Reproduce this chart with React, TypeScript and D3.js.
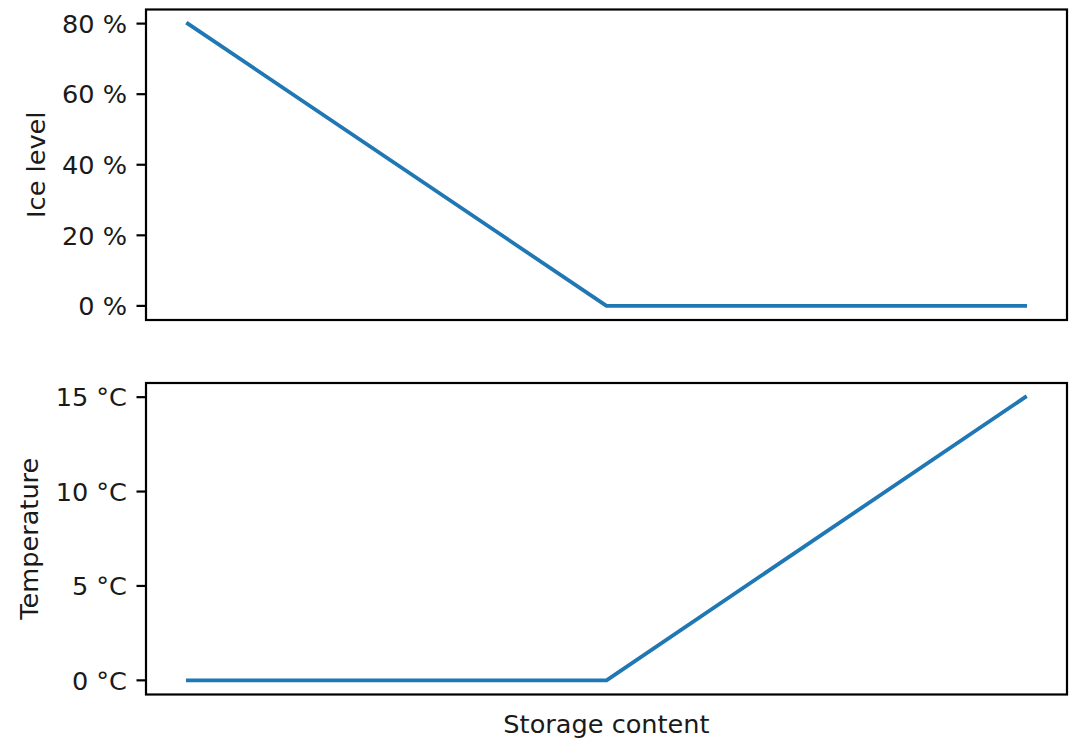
import React from "react";
import * as d3 from "d3";

// Storage states along the x axis (unlabelled positions)
const storagePoints = [0, 1, 2];
// Ice fraction in percent for each storage state
const iceLevel = [80, 0, 0];
// Water temperature in °C for each storage state
const temperature = [0, 0, 15];

const iceTicks = [0, 20, 40, 60, 80];
const tempTicks = [0, 5, 10, 15];

const xLabel = "Storage content";
const iceLabel = "Ice level";
const tempLabel = "Temperature";

const W = 1077;
const H = 739;
const FONT = "'DejaVu Sans', sans-serif";
const FS = 25.6;
const LINE = "#1f77b4";
const INK = "#1a1a1a";

const left = 146;
const right = 1067;
const panels = [
  { top: 9.5, bottom: 320, values: iceLevel, ticks: iceTicks, fmt: (v: number) => `${v} %`, label: iceLabel, labelX: 45 },
  { top: 383, bottom: 694.5, values: temperature, ticks: tempTicks, fmt: (v: number) => `${v} °C`, label: tempLabel, labelX: 38 },
];

function padded(lo: number, hi: number): [number, number] {
  const m = (hi - lo) * 0.05;
  return [lo - m, hi + m];
}

export default function App() {
  const xExt = d3.extent(storagePoints) as [number, number];
  const x = d3.scaleLinear().domain(padded(xExt[0], xExt[1])).range([left, right]);

  return (
    <div style={{ position: "absolute", left: 0, top: 0 }}>
      <svg width={W} height={H} style={{ display: "block", background: "#fff" }} fontFamily={FONT}>
        {panels.map((p, i) => {
          const ext = d3.extent(p.values) as [number, number];
          const y = d3.scaleLinear().domain(padded(ext[0], ext[1])).range([p.bottom, p.top]);
          const line = d3
            .line<number>()
            .x((_, j) => x(storagePoints[j]))
            .y((v) => y(v));
          const cy = (p.top + p.bottom) / 2;
          return (
            <g key={i}>
              <path d={line(p.values) ?? ""} fill="none" stroke={LINE} strokeWidth={3.8} strokeLinejoin="round" strokeLinecap="square" />
              <rect x={left} y={p.top} width={right - left} height={p.bottom - p.top} fill="none" stroke="#000" strokeWidth={2.2} />
              {p.ticks.map((t) => (
                <g key={t} transform={`translate(0,${y(t)})`}>
                  <line x1={left - 9.5} x2={left} stroke="#000" strokeWidth={2.2} />
                  <text x={left - 19} dy="0.36em" textAnchor="end" fontSize={FS} fill={INK}>
                    {p.fmt(t)}
                  </text>
                </g>
              ))}
              <text
                transform={`translate(${p.labelX},${cy}) rotate(-90)`}
                textAnchor="middle"
                fontSize={FS}
                fill={INK}
              >
                {p.label}
              </text>
            </g>
          );
        })}
        <text x={(left + right) / 2} y={733} textAnchor="middle" fontSize={FS} fill={INK}>
          {xLabel}
        </text>
      </svg>
    </div>
  );
}
